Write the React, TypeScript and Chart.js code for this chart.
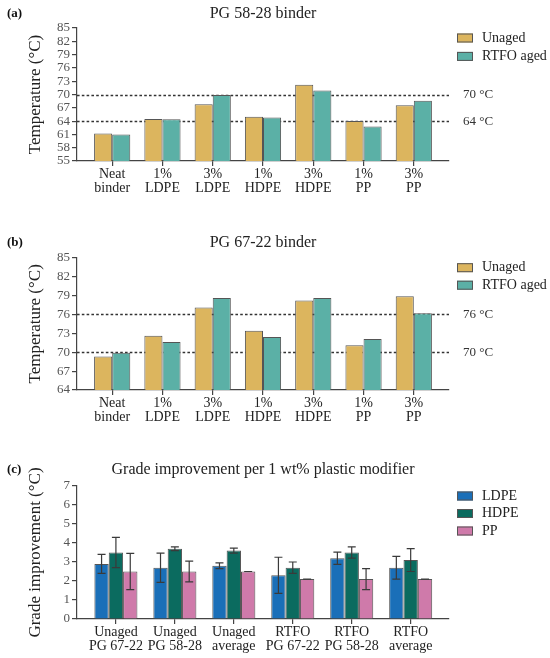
import React, { useEffect, useRef } from "react";
import { Chart, registerables } from "chart.js";

Chart.register(...registerables);

const FONT = "'Liberation Serif', 'Times New Roman', serif";

// ---------- data ----------
const binderCategories = [
  ["Neat", "binder"],
  ["1%", "LDPE"],
  ["3%", "LDPE"],
  ["1%", "HDPE"],
  ["3%", "HDPE"],
  ["1%", "PP"],
  ["3%", "PP"],
];
const pg5828Unaged = [61.2, 64.5, 67.8, 65.0, 72.2, 64.0, 67.6];
const pg5828Rtfo = [61.0, 64.4, 69.9, 64.8, 70.9, 62.8, 68.6];
const pg6722Unaged = [69.3, 72.6, 77.1, 73.4, 78.2, 71.1, 78.9];
const pg6722Rtfo = [69.9, 71.6, 78.6, 72.4, 78.6, 72.1, 76.2];
const ticksA = [55, 58, 61, 64, 67, 70, 73, 76, 79, 82, 85];
const ticksB = [64, 67, 70, 73, 76, 79, 82, 85];
const refLinesA = [70, 64];
const refLinesB = [76, 70];

const gradeCategories = [
  ["Unaged", "PG 67-22"],
  ["Unaged", "PG 58-28"],
  ["Unaged", "average"],
  ["RTFO", "PG 67-22"],
  ["RTFO", "PG 58-28"],
  ["RTFO", "average"],
];
const ldpeValues = [2.9, 2.7, 2.8, 2.3, 3.2, 2.7];
const ldpeErrors = [0.5, 0.77, 0.15, 0.95, 0.32, 0.6];
const hdpeValues = [3.5, 3.7, 3.6, 2.7, 3.5, 3.1];
const hdpeErrors = [0.8, 0.1, 0.13, 0.3, 0.3, 0.6];
const ppValues = [2.5, 2.5, 2.5, 2.1, 2.1, 2.1];
const ppErrors = [0.95, 0.55, 0, 0, 0.55, 0];
const ticksC = [0, 1, 2, 3, 4, 5, 6, 7];

// ---------- panel config ----------
type Series = { label: string; data: number[]; color: string; err?: number[] };
type PanelCfg = {
  tag: string;
  title: string;
  top: number;
  height: number;
  titlePad: { top: number; bottom: number };
  xHeight: number;
  padBottom: number;
  categories: string[][];
  series: Series[];
  yMin: number;
  yMax: number;
  yTicks: number[];
  yTitle: string;
  refLines: number[];
  xMin: number;
  xMax: number;
  catPct: number;
  legendGap: number;
};

const panels: PanelCfg[] = [
  {
    tag: "(a)",
    title: "PG 58-28 binder",
    top: 0,
    height: 220,
    titlePad: { top: 3.9, bottom: 4.9 },
    xHeight: 40,
    padBottom: 19,
    categories: binderCategories,
    series: [
      { label: "Unaged", data: pg5828Unaged, color: "#DCB55E" },
      { label: "RTFO aged", data: pg5828Rtfo, color: "#5BB0A6" },
    ],
    yMin: 55,
    yMax: 85,
    yTicks: ticksA,
    yTitle: "Temperature (°C)",
    refLines: refLinesA,
    xMin: -0.7,
    xMax: 6.7,
    catPct: 0.72,
    legendGap: 18.4,
  },
  {
    tag: "(b)",
    title: "PG 67-22 binder",
    top: 220,
    height: 220,
    titlePad: { top: 13.1, bottom: 5.4 },
    xHeight: 40,
    padBottom: 10,
    categories: binderCategories,
    series: [
      { label: "Unaged", data: pg6722Unaged, color: "#DCB55E" },
      { label: "RTFO aged", data: pg6722Rtfo, color: "#5BB0A6" },
    ],
    yMin: 64,
    yMax: 85,
    yTicks: ticksB,
    yTitle: "Temperature (°C)",
    refLines: refLinesB,
    xMin: -0.7,
    xMax: 6.7,
    catPct: 0.72,
    legendGap: 17.5,
  },
  {
    tag: "(c)",
    title: "Grade improvement per 1 wt% plastic modifier",
    top: 440,
    height: 218,
    titlePad: { top: 20.4, bottom: 6.4 },
    xHeight: 36,
    padBottom: 3,
    categories: gradeCategories,
    series: [
      { label: "LDPE", data: ldpeValues, color: "#1A6FB8", err: ldpeErrors },
      { label: "HDPE", data: hdpeValues, color: "#0B6B5F", err: hdpeErrors },
      { label: "PP", data: ppValues, color: "#CF7AAA", err: ppErrors },
    ],
    yMin: 0,
    yMax: 7,
    yTicks: ticksC,
    yTitle: "Grade improvement (°C)",
    refLines: [],
    xMin: -0.66,
    xMax: 5.65,
    catPct: 0.73,
    legendGap: 17.5,
  },
];

function Panel({ cfg }: { cfg: PanelCfg }) {
  const ref = useRef<HTMLCanvasElement | null>(null);

  useEffect(() => {
    if (!ref.current) return;

    const extras = {
      id: "extras",
      beforeDatasetsDraw(chart: any) {
        const { ctx, chartArea, scales } = chart;
        const y = scales.y;
        ctx.save();
        ctx.setLineDash([2.6, 2.2]);
        ctx.strokeStyle = "#333";
        ctx.lineWidth = 1.3;
        for (const v of cfg.refLines) {
          const py = Math.round(y.getPixelForValue(v)) + 0.5;
          ctx.beginPath();
          ctx.moveTo(chartArea.left, py);
          ctx.lineTo(chartArea.right, py);
          ctx.stroke();
        }
        ctx.restore();
      },
      afterDatasetsDraw(chart: any) {
        const { ctx, scales } = chart;
        const y = scales.y;
        ctx.save();
        ctx.strokeStyle = "#3a3a3a";
        ctx.lineWidth = 1.2;
        cfg.series.forEach((s, di) => {
          if (!s.err) return;
          const meta = chart.getDatasetMeta(di);
          meta.data.forEach((bar: any, i: number) => {
            const v = s.data[i];
            const e = s.err![i];
            const x = bar.x;
            const yt = y.getPixelForValue(v + e);
            const yb = y.getPixelForValue(v - e);
            ctx.beginPath();
            ctx.moveTo(x, yt);
            ctx.lineTo(x, yb);
            ctx.moveTo(x - 4, yt);
            ctx.lineTo(x + 4, yt);
            ctx.moveTo(x - 4, yb);
            ctx.lineTo(x + 4, yb);
            ctx.stroke();
          });
        });
        ctx.restore();
      },
      afterDraw(chart: any) {
        const { ctx, chartArea, scales } = chart;
        const y = scales.y;
        ctx.save();
        // reference line labels
        ctx.fillStyle = "#333";
        ctx.font = `13px ${FONT}`;
        ctx.textAlign = "left";
        ctx.textBaseline = "middle";
        for (const v of cfg.refLines) {
          ctx.fillText(`${v} °C`, chartArea.right + 14, y.getPixelForValue(v));
        }
        // legend
        ctx.font = `14px ${FONT}`;
        cfg.series.forEach((s, i) => {
          const cy = chartArea.top + 10 + i * cfg.legendGap;
          ctx.fillStyle = s.color;
          ctx.fillRect(chartArea.right + 8, cy - 4.5, 16, 9);
          ctx.strokeStyle = "#555";
          ctx.lineWidth = 1;
          ctx.strokeRect(chartArea.right + 8.5, cy - 4, 15, 8);
          ctx.fillStyle = "#222";
          ctx.fillText(s.label, chartArea.right + 33, cy);
        });
        // panel tag
        ctx.font = `bold 13px ${FONT}`;
        ctx.fillStyle = "#111";
        ctx.fillText(cfg.tag, 7, cfg.titlePad.top + 9.6);
        ctx.restore();
      },
    };

    const chart = new Chart(ref.current, {
      type: "bar",
      data: {
        datasets: cfg.series.map((s) => ({
          label: s.label,
          data: s.data.map((v, i) => ({ x: i, y: v })),
          backgroundColor: s.color,
          borderColor: "#555",
          borderWidth: 1,
          categoryPercentage: cfg.catPct,
          barPercentage: 1,
        })),
      },
      options: {
        responsive: false,
        animation: false,
        events: [],
        layout: { padding: { left: 0, right: 101, top: 0, bottom: cfg.padBottom } },
        plugins: {
          legend: { display: false },
          tooltip: { enabled: false },
          title: {
            display: true,
            text: cfg.title,
            fullSize: false,
            color: "#222",
            font: { family: FONT, size: 16, weight: "normal", lineHeight: 1.2 },
            padding: cfg.titlePad,
          },
        },
        scales: {
          x: {
            type: "linear",
            min: cfg.xMin,
            max: cfg.xMax,
            offset: false,
            afterBuildTicks: (scale: any) => {
              scale.ticks = cfg.categories.map((_, i) => ({ value: i }));
            },
            afterFit: (scale: any) => {
              scale.height = cfg.xHeight;
            },
            ticks: {
              autoSkip: false,
              maxRotation: 0,
              padding: 2,
              color: "#222",
              font: { family: FONT, size: 14, lineHeight: 0.95 },
              callback: (value: any) => cfg.categories[Math.round(Number(value))],
            },
            grid: {
              display: true,
              offset: false,
              drawOnChartArea: false,
              drawTicks: true,
              tickLength: 5,
              color: "#444",
              lineWidth: 1.2,
            },
            border: { display: true, color: "#444", width: 1.2 },
          },
          y: {
            type: "linear",
            min: cfg.yMin,
            max: cfg.yMax,
            afterBuildTicks: (scale: any) => {
              scale.ticks = cfg.yTicks.map((v) => ({ value: v }));
            },
            afterFit: (scale: any) => {
              scale.width = 77;
            },
            ticks: {
              autoSkip: false,
              padding: 2,
              color: "#555",
              font: { family: FONT, size: 13 },
            },
            grid: {
              display: true,
              drawOnChartArea: false,
              drawTicks: true,
              tickLength: 5,
              color: "#444",
              lineWidth: 1.2,
            },
            border: { display: true, color: "#444", width: 1.2 },
            title: {
              display: true,
              text: cfg.yTitle,
              color: "#222",
              font: { family: FONT, size: 17, lineHeight: 1.2 },
              padding: { top: 25, bottom: 0 },
            },
          },
        },
      } as any,
      plugins: [extras],
    });

    return () => chart.destroy();
  }, [cfg]);

  return (
    <canvas
      ref={ref}
      width={550}
      height={cfg.height}
      style={{ position: "absolute", left: 0, top: cfg.top, width: 550, height: cfg.height }}
    />
  );
}

export default function App() {
  return (
    <div
      style={{
        position: "absolute",
        left: 0,
        top: 0,
        width: 550,
        height: 658,
        background: "#fff",
        overflow: "hidden",
      }}
    >
      {panels.map((p) => (
        <Panel key={p.tag} cfg={p} />
      ))}
    </div>
  );
}
